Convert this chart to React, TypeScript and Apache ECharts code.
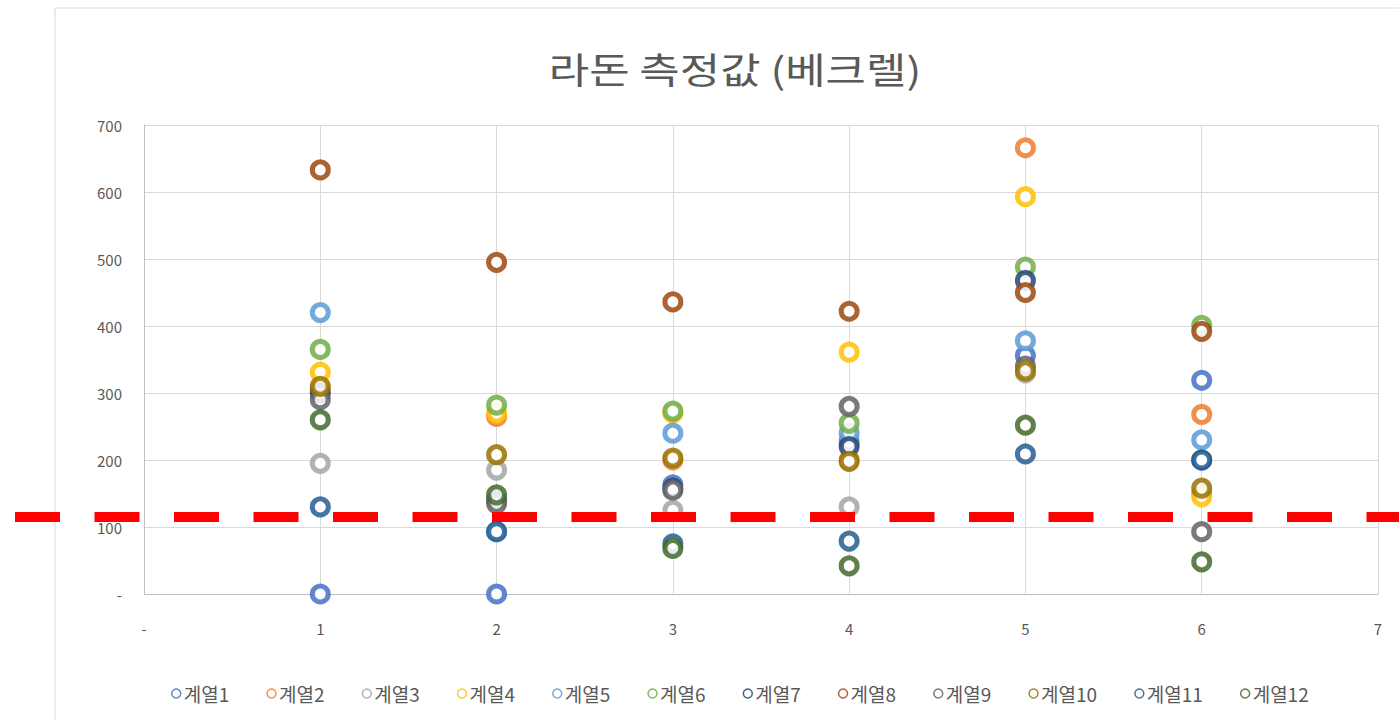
import React, { useEffect, useRef } from "react";
import * as echarts from "echarts";

const TITLE = "라돈 측정값 (베크렐)";
const X_VALUES = [1, 2, 3, 4, 5, 6];
const SERIES_NAMES = ["계열1", "계열2", "계열3", "계열4", "계열5", "계열6", "계열7", "계열8", "계열9", "계열10", "계열11", "계열12"];
const SERIES_COLORS = ["#4472C4", "#ED7D31", "#A5A5A5", "#FFC000", "#5B9BD5", "#70AD47", "#264478", "#9E480E", "#636363", "#997300", "#255E91", "#43682B"];

const S1 = [0, 0, 163, 227, 356, 319];
const S2 = [305, 265, 200, 200, 666, 268];
const S3 = [195, 185, 125, 130, 330, 150];
const S4 = [331, 270, 270, 361, 593, 145];
const S5 = [420, 93, 240, 240, 378, 230];
const S6 = [365, 282, 273, 255, 488, 401];
const S7 = [300, 140, 158, 220, 468, 200];
const S8 = [633, 495, 436, 422, 450, 392];
const S9 = [290, 135, 155, 280, 340, 93];
const S10 = [310, 208, 203, 198, 333, 158];
const S11 = [130, 93, 75, 79, 209, 200];
const S12 = [260, 148, 68, 42, 252, 48];
const SERIES_VALUES = [S1, S2, S3, S4, S5, S6, S7, S8, S9, S10, S11, S12];

const THRESHOLD = 115;

export default function App() {
  const ref = useRef<HTMLDivElement>(null);
  useEffect(() => {
    if (!ref.current) return;
    const chart = echarts.init(ref.current, undefined, { renderer: "svg" });
    const textColor = "#595959";
    const font = "'Noto Sans CJK KR', 'Noto Sans', sans-serif";
    chart.setOption({
      animation: false,
      backgroundColor: "#ffffff",
      grid: { left: 144, right: 21, top: 125, bottom: 126 },
      xAxis: {
        type: "value",
        min: 0,
        max: 7,
        interval: 1,
        axisLine: { show: true, lineStyle: { color: "#BFBFBF" } },
        axisTick: { show: false },
        splitLine: { show: true, lineStyle: { color: "#D9D9D9" } },
        axisLabel: {
          color: textColor,
          fontSize: 15,
          margin: 27,
          fontFamily: font,
          formatter: (v: number) => (v === 0 ? "-" : String(v)),
        },
      },
      yAxis: {
        type: "value",
        min: 0,
        max: 700,
        interval: 100,
        axisLine: { show: true, lineStyle: { color: "#BFBFBF" } },
        axisTick: { show: false },
        splitLine: { show: true, lineStyle: { color: "#D9D9D9" } },
        axisLabel: {
          color: textColor,
          fontSize: 15,
          margin: 22,
          fontFamily: font,
          formatter: (v: number) => (v === 0 ? "-" : String(v)),
        },
      },
      legend: {
        bottom: 12,
        left: 166,
        itemWidth: 9,
        itemHeight: 9,
        itemGap: 37,
        icon: "circle",
        textStyle: { color: textColor, fontSize: 19, fontFamily: font, padding: [0, 0, 0, -2] },
        data: SERIES_NAMES.map((n, i) => ({
          name: n,
          itemStyle: { color: "#ffffff", borderColor: SERIES_COLORS[i], borderWidth: 1.5 },
        })),
      },
      series: SERIES_NAMES.map((name, i) => ({
        name,
        type: "scatter",
        symbol: "circle",
        symbolSize: 16,
        data: X_VALUES.map((x, j) => [x, SERIES_VALUES[i][j]]),
        itemStyle: {
          color: "#ffffff",
          borderColor: SERIES_COLORS[i],
          borderWidth: 5,
          opacity: 0.85,
        },
      })),
    });
    const yPix = chart.convertToPixel({ yAxisIndex: 0 }, THRESHOLD) as number;
    chart.setOption({
      graphic: [
        {
          type: "rect",
          shape: { x: 55, y: 8, width: 1400, height: 740 },
          style: { fill: "none", stroke: "#D9D9D9", lineWidth: 1 },
          z: -1,
        },
        {
          type: "text",
          x: 735,
          y: 68,
          scaleX: 1.22,
          style: {
            text: TITLE,
            fontSize: 36,
            fontFamily: font,
            fill: textColor,
            textAlign: "center",
            textVerticalAlign: "middle",
          },
        },
        {
          type: "line",
          shape: { x1: 15, y1: yPix, x2: 1399, y2: yPix },
          style: { stroke: "#FF0000", lineWidth: 10, lineDash: [45, 34.5] },
          z: 100,
        },
      ],
    });
    return () => chart.dispose();
  }, []);
  return (
    <div
      ref={ref}
      style={{ position: "fixed", left: 0, top: 0, width: 1399, height: 720 }}
    />
  );
}
